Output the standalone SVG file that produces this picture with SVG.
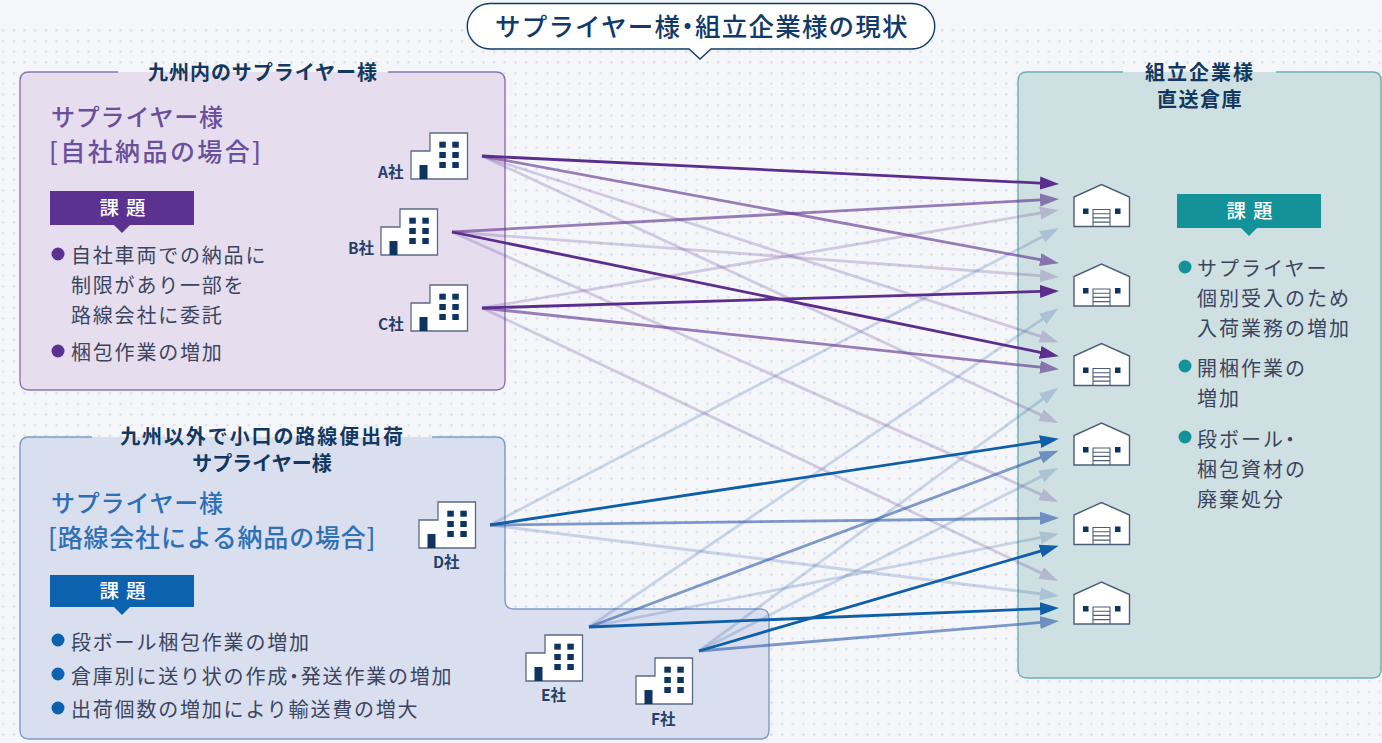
<svg xmlns="http://www.w3.org/2000/svg" width="1382" height="743" viewBox="0 0 1382 743">
<style>
text{font-family:"Noto Sans CJK JP","Noto Sans",sans-serif}
.ttl{font-size:20px;font-weight:700;fill:#123860;text-anchor:middle}
.hp{font-size:24px;font-weight:500;fill:#6a4f9a;letter-spacing:.8px}
.hb{font-size:24px;font-weight:500;fill:#2f70b4;letter-spacing:.8px}
.box{font-size:19.5px;font-weight:500;fill:#fff;text-anchor:middle;letter-spacing:7px}
.b{font-size:20px;fill:#3c4560;letter-spacing:1.8px}
.co{font-size:15.5px;font-weight:700;fill:#263f68}
.nd{font-feature-settings:"palt"}
.pu{stroke:#5b2d8c;stroke-width:2.8;fill:none;marker-end:url(#ap)}
.bl{stroke:#0f5fa8;stroke-width:2.8;fill:none;marker-end:url(#ab)}
.bs{stroke:#2f5bab;stroke-width:2.8;fill:none;marker-end:url(#as)}
.m{opacity:.6}
.l{opacity:.22}
</style>
<defs>
<pattern id="dots" width="10.67" height="10.67" patternUnits="userSpaceOnUse" x="-2" y="25"><circle cx="5.3" cy="5.3" r="1.2" fill="#d8dce4"/></pattern>
<marker id="ap" markerUnits="userSpaceOnUse" markerWidth="20" markerHeight="14" refX="10" refY="7" orient="auto"><path d="M0,.5 L19,7 L0,13.5 Z" fill="#5b2d8c"/></marker>
<marker id="ab" markerUnits="userSpaceOnUse" markerWidth="20" markerHeight="14" refX="10" refY="7" orient="auto"><path d="M0,.5 L19,7 L0,13.5 Z" fill="#0f5fa8"/></marker>
<marker id="as" markerUnits="userSpaceOnUse" markerWidth="20" markerHeight="14" refX="10" refY="7" orient="auto"><path d="M0,.5 L19,7 L0,13.5 Z" fill="#2f5bab"/></marker>
<g id="bld">
<path d="M0,46 V18 H19 V0 H56.5 V46 Z" fill="#fff" stroke="#5b6a84" stroke-width="1.3"/>
<rect x="8.5" y="32" width="8" height="14" fill="#0e3560"/>
<g fill="#0e3560"><rect x="28.3" y="8.7" width="6.5" height="6"/><rect x="41.3" y="8.7" width="6.5" height="6"/><rect x="28.3" y="19" width="6.5" height="6"/><rect x="41.3" y="19" width="6.5" height="6"/><rect x="28.3" y="29" width="6.5" height="6"/><rect x="41.3" y="29" width="6.5" height="6"/></g>
</g>
<g id="wh">
<path d="M0,42 V12.5 L27.5,0 L55.5,12.5 V42 Z" fill="#fff" stroke="#4d5c78" stroke-width="1.4"/>
<path d="M19,42 V25 H36 V42 M19,29.2 H36 M19,33.4 H36 M19,37.6 H36" fill="none" stroke="#4d5c78" stroke-width="1.1"/>
<rect x="9" y="24" width="5.5" height="5.5" fill="#0e3560"/><rect x="41" y="24" width="5.5" height="5.5" fill="#0e3560"/>
</g>
</defs>
<rect width="1382" height="743" fill="#f4f6f9"/>
<rect y="25" width="1382" height="718" fill="url(#dots)"/>

<g id="panel-kyushu">
<rect x="20" y="72" width="485" height="318" rx="9" fill="#e6deef"/>
<path d="M118,72 H29 Q20,72 20,81 V381 Q20,390 29,390 H496 Q505,390 505,381 V81 Q505,72 496,72 H388" fill="none" stroke="#8a75b0" stroke-width="1.4"/>
<text class="ttl" x="263" y="80" style="letter-spacing:.95px">九州内のサプライヤー様</text>
<text class="hp" x="51" y="126">サプライヤー様</text>
<text class="hp" x="49" y="161" style="font-size:25px;letter-spacing:2.4px">[自社納品の場合]</text>
<path d="M50,191 H194 V225 H130 L122,233 L114,225 H50 Z" fill="#5c3291"/>
<text class="box" x="126" y="215">課題</text>
<circle cx="58" cy="254" r="6.5" fill="#5c3291"/>
<text class="b" x="71" y="262.5">自社車両での納品に</text>
<text class="b" x="71" y="292.5">制限があり一部を</text>
<text class="b" x="71" y="322.5">路線会社に委託</text>
<circle cx="58" cy="351" r="6.5" fill="#5c3291"/>
<text class="b" x="71" y="359.5">梱包作業の増加</text>
</g>

<g id="panel-other">
<path d="M29,437 H496 Q505,437 505,446 V600 Q505,609 514,609 H760 Q769,609 769,618 V730 Q769,739 760,739 H29 Q20,739 20,730 V446 Q20,437 29,437 Z" fill="#d9dfef"/>
<path d="M92,437 H29 Q20,437 20,446 V730 Q20,739 29,739 H760 Q769,739 769,730 V618 Q769,609 760,609 H514 Q505,609 505,600 V446 Q505,437 496,437 H432" fill="none" stroke="#7e9ac9" stroke-width="1.4"/>
<text class="ttl" x="262.5" y="443.5" style="letter-spacing:1.9px">九州以外で小口の路線便出荷</text>
<text class="ttl" x="262" y="470.5">サプライヤー様</text>
<text class="hb" x="51" y="512">サプライヤー様</text>
<text class="hb" x="48" y="547" style="font-size:25px">[路線会社による納品の場合]</text>
<path d="M50,575 H194 V607 H130 L122,615 L114,607 H50 Z" fill="#0d62ad"/>
<text class="box" x="126" y="598">課題</text>
<circle cx="58" cy="640" r="6.5" fill="#0d62ad"/>
<text class="b" x="71" y="649.5">段ボール梱包作業の増加</text>
<circle cx="58" cy="674" r="6.5" fill="#0d62ad"/>
<text class="b" x="71" y="683.5">倉庫別に送り状の作成<tspan class="nd">・</tspan>発送作業の増加</text>
<circle cx="58" cy="708" r="6.5" fill="#0d62ad"/>
<text class="b" x="71" y="716.5">出荷個数の増加により輸送費の増大</text>
</g>

<g id="panel-assembler">
<path d="M1018,81 Q1018,72 1027,72 H1373 Q1382,72 1382,81 V669 Q1382,678 1373,678 H1027 Q1018,678 1018,669 Z" fill="#cee0e1"/>
<path d="M1123,72 H1027 Q1018,72 1018,81 V669 Q1018,678 1027,678 H1373 Q1381,678 1381,669 V81 Q1381,72 1373,72 H1276" fill="none" stroke="#6db0b2" stroke-width="1.4"/>
<text class="ttl" x="1200" y="80" style="letter-spacing:2px">組立企業様</text>
<text class="ttl" x="1200" y="107" style="letter-spacing:1.5px">直送倉庫</text>
<path d="M1177,194 H1321 V228 H1257 L1249,236 L1241,228 H1177 Z" fill="#14929a"/>
<text class="box" x="1253" y="218">課題</text>
<circle cx="1185" cy="267" r="6.5" fill="#14929a"/>
<text class="b" x="1197" y="275.5" style="letter-spacing:2px">サプライヤー</text>
<text class="b" x="1197" y="305.5" style="letter-spacing:2px">個別受入のため</text>
<text class="b" x="1197" y="335.5" style="letter-spacing:2px">入荷業務の増加</text>
<circle cx="1185" cy="366" r="6.5" fill="#14929a"/>
<text class="b" x="1197" y="375.5" style="letter-spacing:2px">開梱作業の</text>
<text class="b" x="1197" y="405.5" style="letter-spacing:2px">増加</text>
<circle cx="1185" cy="437" r="6.5" fill="#14929a"/>
<text class="b" x="1197" y="446.5" style="letter-spacing:2px">段ボール<tspan class="nd">・</tspan></text>
<text class="b" x="1197" y="476.5" style="letter-spacing:2px">梱包資材の</text>
<text class="b" x="1197" y="506.5" style="letter-spacing:2px">廃棄処分</text>
</g>

<g id="connectors">
<line class="pu l" x1="482" y1="156" x2="1050" y2="339.4"/>
<line class="pu l" x1="482" y1="156" x2="1050" y2="419.3"/>
<line class="pu l" x1="452" y1="232" x2="1050" y2="276.4"/>
<line class="pu l" x1="452" y1="232" x2="1050" y2="498.4"/>
<line class="pu l" x1="482" y1="308" x2="1050" y2="211.4"/>
<line class="pu l" x1="482" y1="308" x2="1050" y2="577.2"/>
<line class="bs l" x1="490" y1="525" x2="1051" y2="232.2"/>
<line class="bs l" x1="490" y1="525" x2="1050" y2="595"/>
<line class="bs l" x1="589" y1="627" x2="1051" y2="313.4"/>
<line class="bs l" x1="589" y1="627" x2="1050" y2="535.6"/>
<line class="bs l" x1="699" y1="651" x2="1051" y2="392.9"/>
<line class="bs l" x1="699" y1="651" x2="1050" y2="472"/>
<line class="pu m" x1="482" y1="156" x2="1050" y2="261.5"/>
<line class="pu m" x1="452" y1="232" x2="1050" y2="199.4"/>
<line class="pu m" x1="482" y1="308" x2="1050" y2="368.2"/>
<line class="bs m" x1="490" y1="525" x2="1050" y2="518.1"/>
<line class="bs m" x1="589" y1="627" x2="1050" y2="454"/>
<line class="bs m" x1="699" y1="651" x2="1050" y2="621.7"/>
<line class="pu" x1="482" y1="156" x2="1050" y2="183.6"/>
<line class="pu" x1="452" y1="232" x2="1050" y2="354.4"/>
<line class="pu" x1="482" y1="308" x2="1050" y2="291.2"/>
<line class="bl" x1="490" y1="525" x2="1050" y2="440.2"/>
<line class="bl" x1="589" y1="627" x2="1050" y2="608.3"/>
<line class="bl" x1="699" y1="651" x2="1050" y2="548.3"/>
</g>

<g id="company-a"><use href="#bld" x="411" y="133"/><text class="co" x="378" y="178">A社</text></g>
<g id="company-b"><use href="#bld" x="381" y="209"/><text class="co" x="348" y="254">B社</text></g>
<g id="company-c"><use href="#bld" x="411" y="285"/><text class="co" x="378" y="330">C社</text></g>
<g id="company-d"><use href="#bld" x="419" y="502"/><text class="co" x="433" y="568">D社</text></g>
<g id="company-e"><use href="#bld" x="526" y="635"/><text class="co" x="541" y="701">E社</text></g>
<g id="company-f"><use href="#bld" x="636" y="658"/><text class="co" x="651" y="725">F社</text></g>

<g id="warehouse-1"><use href="#wh" x="1074" y="184.5"/></g>
<g id="warehouse-2"><use href="#wh" x="1074" y="264"/></g>
<g id="warehouse-3"><use href="#wh" x="1074" y="343.5"/></g>
<g id="warehouse-4"><use href="#wh" x="1074" y="423"/></g>
<g id="warehouse-5"><use href="#wh" x="1074" y="502.5"/></g>
<g id="warehouse-6"><use href="#wh" x="1074" y="582"/></g>

<g id="title">
<path d="M490,3.5 H912 A22.7,22.7 0 0 1 912,49 H711 L700,59 L689,49 H490 A22.7,22.7 0 0 1 490,3.5 Z" fill="#fff" stroke="#103a68" stroke-width="1.4"/>
<text x="495" y="36" font-size="25.5" font-weight="500" fill="#103a68" letter-spacing="1.2">サプライヤー様<tspan class="nd">・</tspan>組立企業様の現状</text>
</g>
</svg>
